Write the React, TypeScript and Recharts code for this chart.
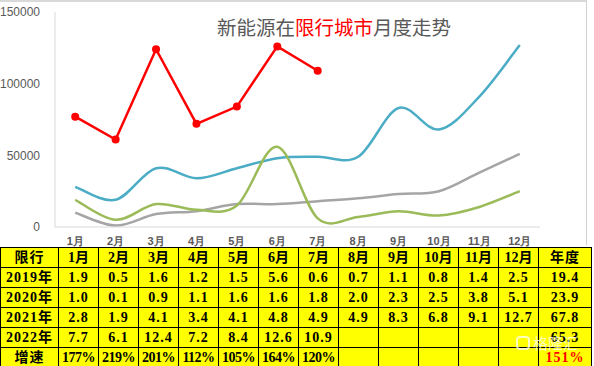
import { Line, LineChart, XAxis, YAxis } from "recharts";

const months = ["1月", "2月", "3月", "4月", "5月", "6月", "7月", "8月", "9月", "10月", "11月", "12月"];
const sales2019 = [1.9, 0.5, 1.6, 1.2, 1.5, 5.6, 0.6, 0.7, 1.1, 0.8, 1.4, 2.5];
const sales2020 = [1.0, 0.1, 0.9, 1.1, 1.6, 1.6, 1.8, 2.0, 2.3, 2.5, 3.8, 5.1];
const sales2021 = [2.8, 1.9, 4.1, 3.4, 4.1, 4.8, 4.9, 4.9, 8.3, 6.8, 9.1, 12.7];
const sales2022 = [7.7, 6.1, 12.4, 7.2, 8.4, 12.6, 10.9];
const growth = ["177%", "219%", "201%", "112%", "105%", "164%", "120%"];
const yearTotals = [19.4, 23.9, 67.8, 65.3];
const totalGrowth = "151%";
const yTicks = [0, 50000, 100000, 150000];

// chart is in units, table in 万
const UNIT = 10000;

const data = months.map((m, i) => ({
    month: m,
    y2019: sales2019[i] * UNIT,
    y2020: sales2020[i] * UNIT,
    y2021: sales2021[i] * UNIT,
    y2022: i < sales2022.length ? sales2022[i] * UNIT : null,
}));

// excel style smoothing (catmull-rom, 1/6 control points)
const excelSmooth = (ctx: any) => {
    let pts: number[][] = [];
    return {
        areaStart() {},
        areaEnd() {},
        lineStart() {
            pts = [];
        },
        point(x: number, y: number) {
            pts.push([+x, +y]);
        },
        lineEnd() {
            if (!pts.length) return;
            ctx.moveTo(pts[0][0], pts[0][1]);
            for (let i = 0; i < pts.length - 1; i++) {
                const p0 = pts[i - 1] || pts[i];
                const p1 = pts[i];
                const p2 = pts[i + 1];
                const p3 = pts[i + 2] || p2;
                ctx.bezierCurveTo(
                    p1[0] + (p2[0] - p0[0]) / 6,
                    p1[1] + (p2[1] - p0[1]) / 6,
                    p2[0] - (p3[0] - p1[0]) / 6,
                    p2[1] - (p3[1] - p1[1]) / 6,
                    p2[0],
                    p2[1]
                );
            }
        },
    };
};

const tableRows = [
    { label: "2019年", values: sales2019.map((v) => v.toFixed(1)), total: yearTotals[0].toFixed(1) },
    { label: "2020年", values: sales2020.map((v) => v.toFixed(1)), total: yearTotals[1].toFixed(1) },
    { label: "2021年", values: sales2021.map((v) => v.toFixed(1)), total: yearTotals[2].toFixed(1) },
    { label: "2022年", values: sales2022.map((v) => v.toFixed(1)), total: yearTotals[3].toFixed(1) },
    { label: "增速", values: growth, total: totalGrowth, red: true },
];

const cell: React.CSSProperties = {
    border: "1px solid #000",
    padding: 0,
    height: 19,
    lineHeight: "19px",
    textAlign: "center",
    whiteSpace: "nowrap",
    overflow: "hidden",
};

export default function App() {
    return (
        <div
            style={{
                position: "absolute",
                left: 0,
                top: 0,
                width: 594,
                height: 366,
                background: "#fff",
                overflow: "hidden",
            }}
        >
            <div style={{ position: "absolute", left: 0, top: 0, width: 588, height: 247, overflow: "hidden" }}>
                <LineChart
                    width={588}
                    height={260}
                    data={data}
                    margin={{ top: 12, right: 48, left: 0, bottom: 0 }}
                    style={{ fontFamily: "'Liberation Sans', Arial, sans-serif" }}
                >
                    <XAxis
                        dataKey="month"
                        scale="band"
                        height={33}
                        tickLine={false}
                        axisLine={{ stroke: "#d9d9d9" }}
                        tickMargin={4}
                        tick={{ fill: "#595959", fontSize: 11, fontWeight: "bold" }}
                        interval={0}
                    />
                    <YAxis
                        width={55}
                        domain={[0, 150000]}
                        ticks={yTicks}
                        tickLine={false}
                        tickSize={0}
                        axisLine={{ stroke: "#d9d9d9" }}
                        tickMargin={15}
                        tick={{ fill: "#595959", fontSize: 12 }}
                    />
                    <Line
                        dataKey="y2021"
                        type={excelSmooth as any}
                        stroke="#4bacc6"
                        strokeWidth={2.5}
                        dot={false}
                        isAnimationActive={false}
                    />
                    <Line
                        dataKey="y2020"
                        type={excelSmooth as any}
                        stroke="#a5a5a5"
                        strokeWidth={2.5}
                        dot={false}
                        isAnimationActive={false}
                    />
                    <Line
                        dataKey="y2019"
                        type={excelSmooth as any}
                        stroke="#9bbb59"
                        strokeWidth={2.5}
                        dot={false}
                        isAnimationActive={false}
                    />
                    <Line
                        dataKey="y2022"
                        type="linear"
                        stroke="#ff0000"
                        strokeWidth={2.5}
                        dot={{ r: 4, fill: "#ff0000", stroke: "#ff0000", strokeWidth: 0 }}
                        isAnimationActive={false}
                    />
                </LineChart>
            </div>
            <div
                style={{
                    position: "absolute",
                    left: 217,
                    top: 14,
                    fontSize: 19.5,
                    color: "#595959",
                    fontFamily: "'Noto Sans CJK SC', sans-serif",
                    lineHeight: "26px",
                    whiteSpace: "nowrap",
                }}
            >
                新能源在<span style={{ color: "#ff0000" }}>限行城市</span>月度走势
            </div>
            <div
                style={{
                    position: "absolute",
                    left: 0,
                    top: 0,
                    width: 587,
                    height: 245,
                    borderTop: "2px solid #d9d9d9",
                    borderRight: "1px solid #d0d0d0",
                    boxSizing: "border-box",
                    pointerEvents: "none",
                }}
            />
            <table
                style={{
                    position: "absolute",
                    left: 0,
                    top: 247,
                    borderCollapse: "collapse",
                    tableLayout: "fixed",
                    width: 591,
                    background: "#ffff00",
                    fontFamily: "'Liberation Serif', 'Noto Sans CJK SC', serif",
                    fontWeight: "bold",
                    fontSize: 14,
                    letterSpacing: 1,
                    color: "#000",
                }}
            >
                <colgroup>
                    <col style={{ width: 58 }} />
                    {months.map((m) => (
                        <col key={m} style={{ width: 40 }} />
                    ))}
                    <col style={{ width: 53 }} />
                </colgroup>
                <tbody>
                    <tr>
                        <td style={cell}>限行</td>
                        {months.map((m) => (
                            <td key={m} style={{ ...cell, letterSpacing: 0 }}>
                                {m}
                            </td>
                        ))}
                        <td style={cell}>年度</td>
                    </tr>
                    {tableRows.map((r) => (
                        <tr key={r.label}>
                            <td style={cell}>{r.label}</td>
                            {months.map((m, i) => (
                                <td key={m} style={{ ...cell, letterSpacing: r.red ? -0.5 : 1 }}>
                                    {r.values[i] ?? ""}
                                </td>
                            ))}
                            <td style={{ ...cell, color: r.red ? "#ff0000" : "#000" }}>{r.total}</td>
                        </tr>
                    ))}
                </tbody>
            </table>
            {/* watermark */}
            <div
                style={{
                    position: "absolute",
                    left: 516,
                    top: 334,
                    display: "flex",
                    alignItems: "center",
                    gap: 3,
                    color: "rgba(255,255,255,0.75)",
                    fontFamily: "'Noto Sans CJK SC', sans-serif",
                    fontSize: 15,
                    lineHeight: "18px",
                    pointerEvents: "none",
                }}
            >
                <span
                    style={{
                        display: "inline-block",
                        width: 14,
                        height: 14,
                        border: "2px solid rgba(255,255,255,0.75)",
                        borderRadius: 4,
                        boxSizing: "border-box",
                    }}
                />
                <span>格隆汇</span>
            </div>
        </div>
    );
}
